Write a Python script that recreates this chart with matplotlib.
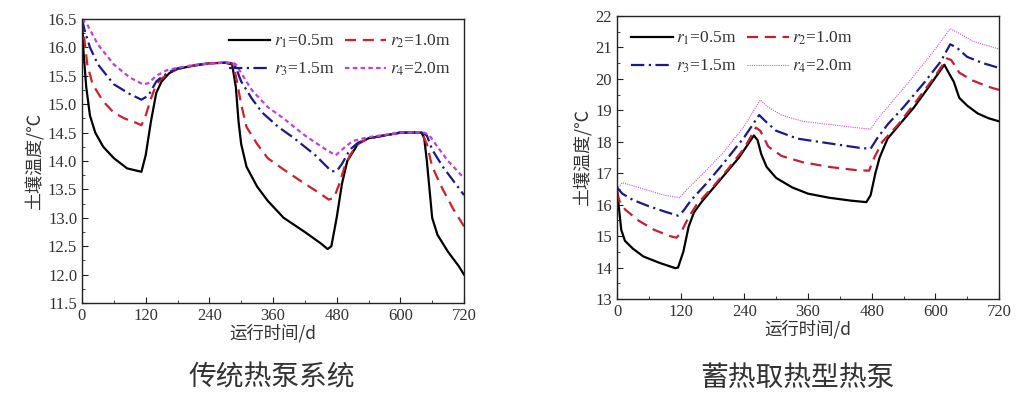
import numpy as np
import matplotlib.pyplot as plt
from matplotlib.ticker import MultipleLocator

plt.rcParams['font.family'] = ['Liberation Serif', 'Noto Sans CJK SC']
plt.rcParams['mathtext.fontset'] = 'stix'

# ---- left chart: 传统热泵系统 ----
t1_a = [0, 3, 8, 15, 25, 40, 60, 85, 112, 120, 130, 140, 150, 165, 180, 210, 240, 270, 283, 290, 295, 300, 310,
        330, 350, 380, 420, 450, 463, 470, 480, 490, 500, 520, 540, 570, 600, 640, 645, 650, 655, 660, 670, 690, 710, 720]
r1_a = [16.5, 15.9, 15.3, 14.8, 14.5, 14.25, 14.05, 13.87, 13.81, 14.1, 14.7, 15.2, 15.4, 15.55, 15.62, 15.68, 15.72,
        15.73, 15.7, 15.3, 14.7, 14.3, 13.9, 13.55, 13.3, 13.0, 12.75, 12.55, 12.45, 12.5, 13.0, 13.6, 14.0, 14.3,
        14.4, 14.45, 14.5, 14.5, 14.4, 14.0, 13.5, 13.0, 12.7, 12.4, 12.15, 12.0]

t2_a = [0, 5, 10, 20, 40, 60, 80, 100, 112, 120, 130, 140, 150, 165, 180, 210, 240, 270, 283, 290, 300, 310, 330,
        350, 380, 420, 450, 465, 475, 485, 495, 505, 520, 540, 570, 600, 640, 650, 660, 680, 700, 720]
r2_a = [16.5, 16.1, 15.7, 15.35, 15.05, 14.85, 14.75, 14.68, 14.63, 14.8, 15.1, 15.35, 15.45, 15.56, 15.62, 15.68,
        15.72, 15.73, 15.72, 15.5, 15.0, 14.6, 14.3, 14.05, 13.85, 13.6, 13.42, 13.32, 13.35, 13.6, 13.9, 14.1, 14.3,
        14.4, 14.45, 14.5, 14.5, 14.3, 13.9, 13.5, 13.15, 12.85]

t3_a = [0, 5, 15, 30, 60, 90, 112, 125, 140, 150, 165, 180, 210, 240, 270, 285, 290, 300, 320, 340, 370, 400, 440,
        470, 480, 490, 505, 520, 540, 570, 600, 640, 650, 660, 680, 700, 720]
r3_a = [16.5, 16.3, 16.0, 15.7, 15.35, 15.18, 15.08, 15.15, 15.4, 15.48, 15.57, 15.63, 15.68, 15.72, 15.73, 15.72,
        15.65, 15.4, 15.1, 14.85, 14.6, 14.4, 14.1, 13.82, 13.82, 13.95, 14.2, 14.32, 14.4, 14.45, 14.5, 14.5, 14.45,
        14.2, 13.9, 13.65, 13.4]

t4_a = [0, 10, 30, 60, 90, 115, 125, 140, 160, 180, 210, 240, 270, 285, 290, 300, 320, 350, 380, 420, 460, 478, 490,
        510, 540, 570, 600, 645, 655, 670, 690, 720]
r4_a = [16.5, 16.4, 16.05, 15.7, 15.47, 15.35, 15.37, 15.5, 15.6, 15.64, 15.69, 15.72, 15.73, 15.73, 15.7, 15.55,
        15.25, 14.95, 14.75, 14.45, 14.2, 14.1, 14.2, 14.35, 14.42, 14.46, 14.5, 14.5, 14.45, 14.25, 14.0, 13.7]

# ---- right chart: 蓄热取热型热泵 ----
t1_b = [0, 3, 8, 15, 30, 50, 80, 110, 115, 125, 135, 145, 160, 180, 200, 230, 258, 265, 272, 282, 300, 330, 360, 400,
        440, 470, 478, 487, 495, 510, 530, 560, 590, 617, 625, 635, 645, 660, 680, 700, 720]
r1_b = [16.5, 16.0, 15.2, 14.85, 14.6, 14.35, 14.15, 13.98, 14.0, 14.5, 15.3, 15.75, 16.1, 16.5, 16.9, 17.5, 18.2,
        18.05, 17.6, 17.2, 16.85, 16.55, 16.35, 16.22, 16.13, 16.08, 16.3, 17.0, 17.5, 18.1, 18.5, 19.1, 19.8, 20.45,
        20.2, 19.9, 19.4, 19.15, 18.9, 18.75, 18.65]

t2_b = [0, 5, 15, 40, 70, 100, 112, 120, 135, 150, 180, 210, 240, 262, 270, 285, 310, 350, 400, 450, 475, 485, 500,
        530, 560, 600, 622, 630, 645, 670, 700, 720]
r2_b = [16.4, 16.1, 15.85, 15.5, 15.2, 15.0, 14.95, 15.1, 15.6, 16.0, 16.55, 17.15, 17.8, 18.45, 18.35, 17.85, 17.55,
        17.35, 17.2, 17.1, 17.08, 17.5, 18.0, 18.55, 19.2, 20.1, 20.65, 20.6, 20.2, 19.95, 19.75, 19.65]

t3_b = [0, 10, 30, 60, 90, 115, 125, 140, 170, 200, 240, 268, 280, 300, 340, 380, 420, 460, 478, 490, 510, 540, 580,
        610, 628, 640, 660, 690, 720]
r3_b = [16.55, 16.35, 16.15, 15.95, 15.78, 15.65, 15.8, 16.15, 16.7, 17.3, 18.15, 18.85, 18.65, 18.35, 18.1, 18.0,
        17.9, 17.8, 17.78, 18.1, 18.55, 19.1, 19.9, 20.55, 21.1, 21.0, 20.7, 20.5, 20.35]

t4_b = [0, 10, 30, 60, 90, 118, 130, 160, 200, 240, 270, 285, 310, 350, 400, 450, 478, 490, 520, 560, 600, 628, 645,
        670, 700, 720]
r4_b = [16.5, 16.7, 16.6, 16.45, 16.3, 16.22, 16.45, 16.95, 17.65, 18.5, 19.33, 19.1, 18.85, 18.65, 18.55, 18.45,
        18.4, 18.7, 19.3, 20.1, 20.95, 21.6, 21.45, 21.2, 21.05, 20.95]

labels = ['$r_1$=0.5m', '$r_2$=1.0m', '$r_3$=1.5m', '$r_4$=2.0m']
xticks = [0, 120, 240, 360, 480, 600, 720]
cjk = ['Noto Sans CJK SC', 'DejaVu Sans']
txt = '#333333'

fig = plt.figure(figsize=(10.17, 4.04), dpi=100)
ax1 = fig.add_axes([82 / 1017, 1 - 303 / 404, 382 / 1017, 284 / 404])
ax2 = fig.add_axes([617 / 1017, 1 - 299 / 404, 382 / 1017, 283 / 404])


def style_axis(ax):
    ax.set_xlim(0, 720)
    ax.set_xticks(xticks)
    ax.xaxis.set_minor_locator(MultipleLocator(60))
    ax.tick_params(which='both', direction='in', top=False, right=False, labelsize=12, colors='#222222',
                   labelcolor=txt)
    ax.tick_params(which='major', length=4)
    ax.tick_params(which='minor', length=2)
    for s in ax.spines.values():
        s.set_linewidth(1.0)
        s.set_color('#222222')
    ax.set_ylabel('土壤温度/℃', family=cjk, fontsize=13, color=txt, labelpad=2)
    ax.set_xlabel('运行时间/d', family=cjk, fontsize=12.5, color=txt, labelpad=0)


def add_legend(ax, loc):
    h, l = ax.get_legend_handles_labels()
    order = [0, 2, 1, 3]  # row-wise: r1 r2 / r3 r4
    ax.legend([h[i] for i in order], [l[i] for i in order], ncol=2, loc=loc, frameon=False, fontsize=12.5,
              handlelength=2.4, columnspacing=0.6, handletextpad=0.2, borderaxespad=0.4, labelspacing=0.6,
              labelcolor=txt)


# left
ax1.plot(t1_a, r1_a, color='black', lw=1.6, label=labels[0])
ax1.plot(t2_a, r2_a, color='#d0202a', lw=1.6, dashes=(5, 3), label=labels[1])
ax1.plot(t3_a, r3_a, color='#1a1a8a', lw=1.6, dashes=(6, 2, 1, 2), label=labels[2])
ax1.plot(t4_a, r4_a, color='#c040e0', lw=1.6, dashes=(2, 1.5), label=labels[3])
ax1.set_ylim(11.5, 16.5)
ax1.yaxis.set_major_locator(MultipleLocator(0.5))
ax1.yaxis.set_minor_locator(MultipleLocator(0.25))
ax1.yaxis.set_major_formatter(lambda v, p: f'{v:.1f}')
style_axis(ax1)
add_legend(ax1, 'upper right')

# right
ax2.plot(t1_b, r1_b, color='black', lw=1.6, label=labels[0])
ax2.plot(t2_b, r2_b, color='#c42030', lw=1.6, dashes=(5, 3), label=labels[1])
ax2.plot(t3_b, r3_b, color='#1a1a8a', lw=1.6, dashes=(6, 2, 1, 2), label=labels[2])
ax2.plot(t4_b, r4_b, color='#cc55cc', lw=0.8, dashes=(1, 1), label=labels[3])
ax2.set_ylim(13, 22)
ax2.yaxis.set_major_locator(MultipleLocator(1))
ax2.yaxis.set_minor_locator(MultipleLocator(0.5))
style_axis(ax2)
add_legend(ax2, 'upper left')

fig.text(272 / 1017, 1 - 378 / 404, '传统热泵系统', family=cjk, fontsize=20, color=txt, ha='center', va='center')
fig.text(797 / 1017, 1 - 378 / 404, '蓄热取热型热泵', family=cjk, fontsize=20, color=txt, ha='center', va='center')

fig.savefig('out.png', dpi=100)
